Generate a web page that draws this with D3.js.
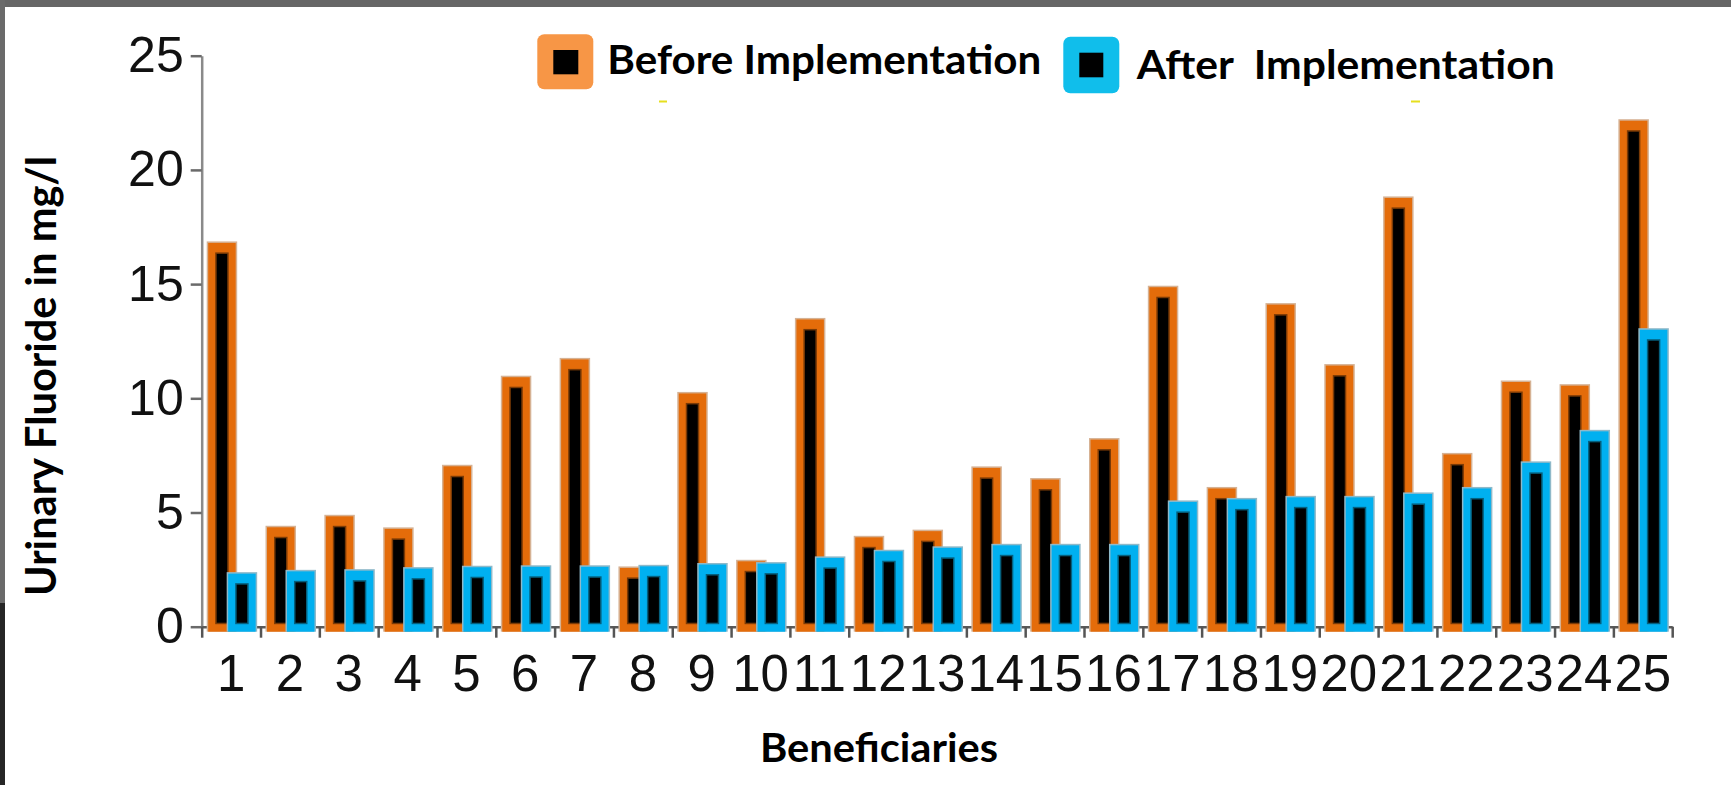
<!DOCTYPE html>
<html><head><meta charset="utf-8">
<script src="https://cdn.jsdelivr.net/npm/d3@7"></script>
<style>
html,body{margin:0;padding:0;background:#fff;overflow:hidden}
svg{display:block}
</style></head><body>
<svg id="chart" width="1731" height="785"></svg>
<script>
// ---------- data ----------
const categories = ["1","2","3","4","5","6","7","8","9","10","11","12","13","14","15","16","17","18","19","20","21","22","23","24","25"];
const beforeValues = [16.65, 4.2, 4.68, 4.13, 6.87, 10.77, 11.55, 2.42, 10.06, 2.71, 13.3, 3.76, 4.03, 6.8, 6.29, 8.04, 14.71, 5.9, 13.95, 11.28, 18.62, 7.39, 10.56, 10.4, 22.0];
const afterValues  = [2.17, 2.27, 2.3, 2.39, 2.45, 2.47, 2.47, 2.49, 2.57, 2.61, 2.86, 3.15, 3.3, 3.41, 3.41, 3.41, 5.31, 5.42, 5.51, 5.51, 5.66, 5.9, 7.02, 8.4, 12.85];
const yTickValues = [0, 5, 10, 15, 20, 25];
const seriesNames = ["Before Implementation", "After  Implementation"];
const yTitle = "Urinary Fluoride in mg/l";
const xTitle = "Beneficiaries";

// ---------- styles ----------
const barColors  = ["#E46C0A", "#00B0F0"];
const midColors  = ["#7a3a06", "#05607e"];
const haloColors = ["#d6b294", "#8fb9c9"];
const legendColors = ["#F79646", "#10BEEB"];
const tickFont = "'Liberation Sans', Arial, sans-serif";
const titleFont = "Lato, 'Open Sans', sans-serif";

const svg = d3.select("#chart");

// frame
svg.append("rect").attr("x",0).attr("y",0).attr("width",1731).attr("height",7).attr("fill","#666");
svg.append("rect").attr("x",0).attr("y",0).attr("width",5).attr("height",603).attr("fill","#6a6a6a");
svg.append("rect").attr("x",0).attr("y",603).attr("width",5).attr("height",182).attr("fill","#262626");

// ---------- scales ----------
const x0 = d3.scaleBand().domain(categories).range([201.7, 1672.2]).padding(0);
const xb = d3.scaleLinear().domain([0, categories.length]).range([201.7, 1672.2]);
const x1 = d3.scaleLinear().domain([0, 1]).range([0.1105, 0.45]);
const y  = d3.scaleLinear().domain([0, 25]).range([626.7, 55.7]);
const bw = x0.bandwidth();
const BW = 0.4675 * bw;

// ---------- axes ----------
const yAxis = svg.append("g").attr("transform", "translate(201.7,0)")
  .call(d3.axisLeft(y).tickValues(yTickValues).tickSize(11).tickSizeOuter(0).tickPadding(7));
yAxis.select(".domain").attr("stroke", "#8a8a8a").attr("stroke-width", 2.5);
yAxis.selectAll(".tick line").attr("stroke", "#6a6a6a").attr("stroke-width", 2.5);
yAxis.selectAll(".tick text").attr("font-family", tickFont)
  .attr("font-size", 50).attr("fill", "#111");

// x boundary ticks + baseline
const xTickAxis = svg.append("g").attr("transform", "translate(0,626.7)")
  .call(d3.axisBottom(xb).tickValues(d3.range(0, categories.length + 1)).tickFormat("").tickSize(11).tickSizeOuter(0));
xTickAxis.select(".domain").attr("stroke", "#5a5a5a").attr("stroke-width", 2.5);
xTickAxis.selectAll(".tick line").attr("stroke", "#555").attr("stroke-width", 2.5);

// ---------- bars ----------
const series = [beforeValues, afterValues];
const gBars = svg.append("g");
categories.forEach((c, i) => {
  series.forEach((vals, s) => {
    const v = vals[i];
    const bx = x0(c) + x1(s) * bw;
    const top = y(v) - 3.5;
    const bottom = y(0) + 5;
    const g = gBars.append("g");
    g.append("rect").attr("x", bx - 1.5).attr("y", top - 1.5).attr("width", BW + 3).attr("height", bottom - top + 1.5)
      .attr("fill", haloColors[s]);
    g.append("rect").attr("x", bx).attr("y", top).attr("width", BW).attr("height", bottom - top)
      .attr("fill", barColors[s]);
    g.append("rect").attr("x", bx + 7).attr("y", top + 9.5).attr("width", BW - 14).attr("height", Math.max(0, bottom - top - 17))
      .attr("fill", midColors[s]);
    g.append("rect").attr("x", bx + 8.5).attr("y", top + 11).attr("width", BW - 17).attr("height", Math.max(0, bottom - top - 20))
      .attr("fill", "#000");
  });
});

// category labels
const xLabelAxis = svg.append("g").attr("transform", "translate(0,626.7)")
  .call(d3.axisBottom(x0).tickSize(0).tickPadding(28));
xLabelAxis.select(".domain").remove();
xLabelAxis.selectAll(".tick text").attr("font-family", tickFont)
  .attr("font-size", 51).attr("fill", "#111");

// ---------- titles ----------
svg.append("text").attr("transform", "translate(56,376) rotate(-90)")
  .attr("text-anchor", "middle").attr("font-family", titleFont).attr("font-weight", "bold")
  .attr("font-size", 42).attr("fill", "#000").attr("textLength", 440).attr("lengthAdjust", "spacingAndGlyphs")
  .text(yTitle);
svg.append("text").attr("x", 879).attr("y", 762)
  .attr("text-anchor", "middle").attr("font-family", titleFont).attr("font-weight", "bold")
  .attr("font-size", 41).attr("fill", "#000").attr("textLength", 238).attr("lengthAdjust", "spacingAndGlyphs")
  .text(xTitle);

// ---------- legend ----------
const legendItems = [
  {sx: 537.3, sy: 34.3, sw: 56, sh: 55, ix: 553.3, iy: 50, iw: 25, ih: 24.3, tx: 607.3, ty: 74.3, tl: 434},
  {sx: 1063.3, sy: 36.7, sw: 56, sh: 56.6, ix: 1079.3, iy: 52.7, iw: 24, ih: 24.6, tx: 1136.7, ty: 79, tl: 418}
];
legendItems.forEach((L, s) => {
  svg.append("rect").attr("x", L.sx).attr("y", L.sy).attr("width", L.sw).attr("height", L.sh).attr("rx", 7)
    .attr("fill", legendColors[s]);
  svg.append("rect").attr("x", L.ix).attr("y", L.iy).attr("width", L.iw).attr("height", L.ih).attr("fill", "#000");
  svg.append("text").attr("x", L.tx).attr("y", L.ty).style("white-space", "pre")
    .attr("font-family", titleFont).attr("font-weight", "bold")
    .attr("font-size", 40).attr("fill", "#000").attr("textLength", L.tl).attr("lengthAdjust", "spacingAndGlyphs")
    .text(seriesNames[s]);
});
// small yellow marks
svg.append("rect").attr("x", 659).attr("y", 100.5).attr("width", 8).attr("height", 2).attr("fill", "#e6df1e");
svg.append("rect").attr("x", 1411).attr("y", 100.5).attr("width", 9).attr("height", 2).attr("fill", "#e6df1e");
</script>
</body></html>
